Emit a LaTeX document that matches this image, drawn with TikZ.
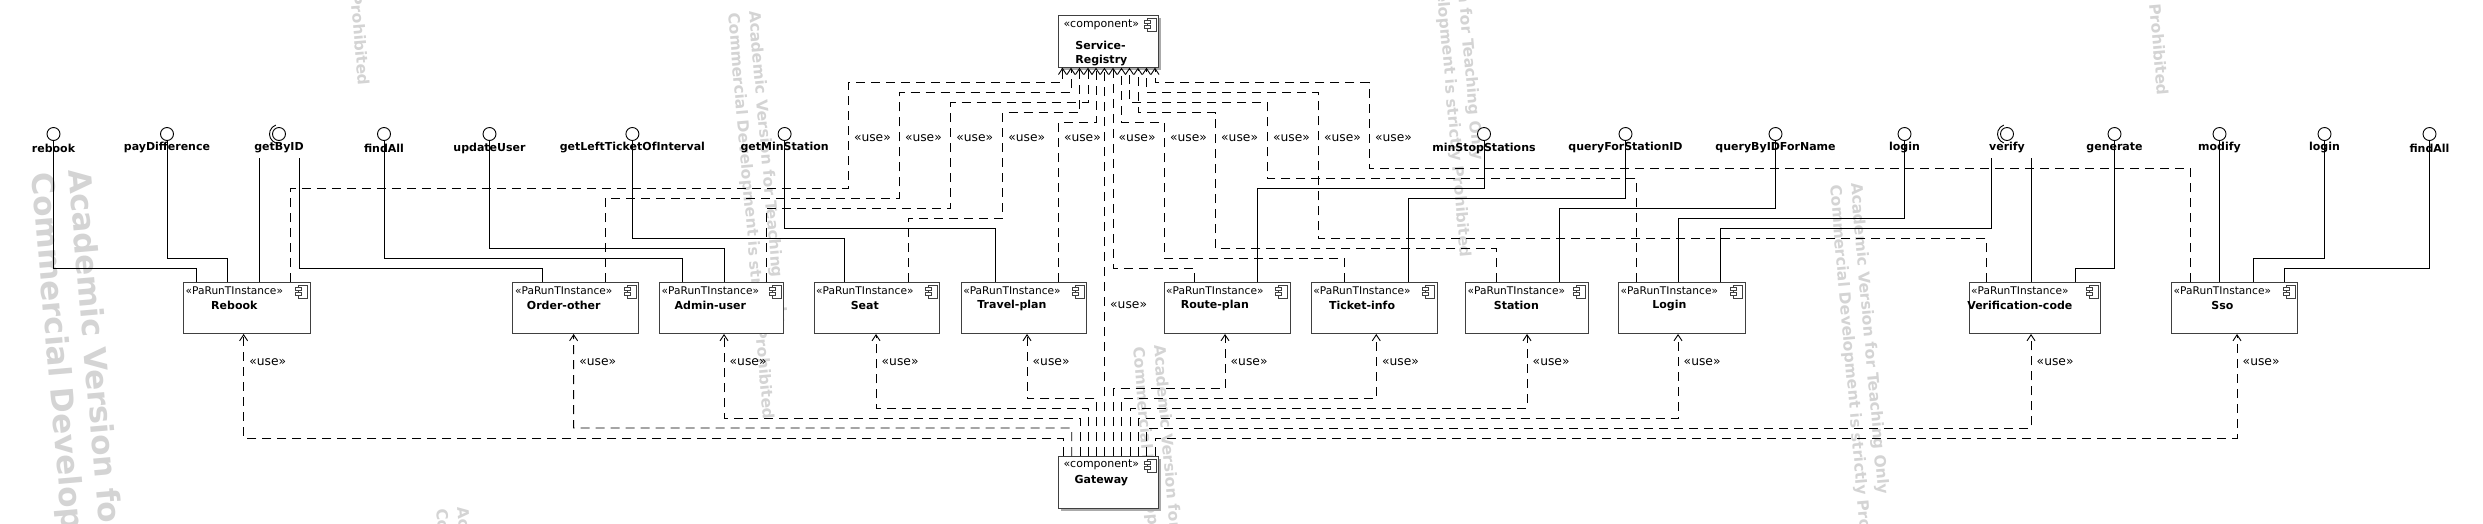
\documentclass[tikz,border=0pt]{standalone}
\usepackage{fontspec}
\setmainfont{DejaVu Sans}
\usetikzlibrary{arrows.meta}
\definecolor{wmc}{RGB}{212,212,212}
\definecolor{bord}{RGB}{64,64,64}
\definecolor{shad}{RGB}{170,170,170}
\tikzset{
  ln/.style={line width=0.9pt, draw=black},
  dep/.style={line width=0.9pt, draw=black, dash pattern=on 9pt off 6pt},
  uarr/.style={-{Straight Barb[length=6pt,width=8pt,line width=0.9pt]}},
  compbox/.style={draw=bord, line width=1pt, fill=white, inner sep=0pt, minimum height=51pt, anchor=north west},
  stereo/.style={font=\fontsize{10.6}{12}\selectfont, inner sep=0pt},
  cname/.style={font=\fontsize{11}{13.5}\selectfont\bfseries, inner sep=0pt},
  iflabel/.style={font=\fontsize{11}{13}\selectfont\bfseries, inner sep=0pt},
  uselbl/.style={font=\fontsize{12.3}{14}\selectfont, inner sep=0pt, anchor=west},
  ball/.style={draw=black, line width=0.9pt, fill=white, circle, minimum size=13pt, inner sep=0pt},
  wm/.style={text=wmc, font=\fontsize{15.5}{21}\selectfont\bfseries, align=left, anchor=north west, rotate=-85, inner sep=0pt},
  wmbig/.style={wm, font=\fontsize{31}{37}\selectfont\bfseries},
}
\newcommand{\cicon}[1]{%
  \begin{scope}[shift={#1}]
    \draw[bord, line width=0.8pt, fill=white] (3,0) rectangle (12,13);
    \draw[bord, line width=0.8pt, fill=white] (0,2.5) rectangle (6,5.5);
    \draw[bord, line width=0.8pt, fill=white] (0,7.5) rectangle (6,10.5);
  \end{scope}}
\newcommand{\comp}[4]{%
  \node[compbox, minimum width=#3pt] (#1) at (#2,282) {};
  \node[stereo, anchor=west] (#1s) at ([xshift=2.5pt,yshift=-8.7pt]#1.north west) {«PaRunTInstance»};
  \node[cname] (#1n) at ([yshift=-14.3pt]#1s.center) {#4};
  \cicon{([xshift=-15pt,yshift=-3pt]#1.north east)}
}
\newcommand{\wmark}[2][wm]{\node[#1] at #2 {Academic Version for Teaching Only\\Commercial Development is strictly Prohibited};}
\begin{document}
\begin{tikzpicture}[x=1pt,y=-1pt]
\fill[white] (0,0) rectangle (2483,523);
\useasboundingbox (0,0) rectangle (2483,523);
\clip (0,0) rectangle (2483,523);
% watermark
\wmark[wmbig]{(92,168)}
\wmark{(761,10)}
\wmark{(356,-324)}
\wmark{(1166,344)}
\wmark{(1458,-152)}
\wmark{(1863,182)}
\wmark{(2155,-314)}
\wmark{(469,506)}

% ---- component boxes
\fill[shad] (1061.3,18) rectangle (1161.3,69.7);
\node[compbox, minimum width=100pt, minimum height=51.7pt] (sr) at (1058.3,15) {};
\node[stereo, font=\fontsize{11}{12}\selectfont, anchor=west] (srs) at ([xshift=5pt,yshift=-9.3pt]sr.north west) {«component»};
\node[cname, align=left, anchor=north] (srn) at ([yshift=-17pt]srs.center) {Service-\\Registry};
\cicon{([xshift=-15pt,yshift=-3pt]sr.north east)}

\fill[shad] (1061.3,459) rectangle (1161.3,511.3);
\node[compbox, minimum width=100pt, minimum height=52.3pt] (gw) at (1058.3,456) {};
\node[stereo, font=\fontsize{11}{12}\selectfont, anchor=west] (gws) at ([xshift=5pt,yshift=-9pt]gw.north west) {«component»};
\node[cname] (gwn) at ([yshift=-15.3pt]gws.center) {Gateway};
\cicon{([xshift=-15pt,yshift=-3pt]gw.north east)}

\comp{reb}{183}{126.6}{Rebook}
\comp{ord}{512.4}{126}{Order-other}
\comp{adm}{659}{124}{Admin-user}
\comp{seat}{813.5}{125.5}{Seat}
\comp{trv}{960.6}{125.4}{Travel-plan}
\comp{rte}{1163.5}{126}{Route-plan}
\comp{tkt}{1310.7}{125.8}{Ticket-info}
\comp{sta}{1465}{122.5}{Station}
\comp{lgn}{1618}{126.5}{Login}
\comp{ver}{1968.5}{131.9}{Verification-code}
\comp{sso}{2171}{126}{Sso}

% ---- interfaces
\foreach \id/\x/\t in {rebook/53.5/rebook, payd/167/payDifference, getbyid/279/getByID,
  findall/384/findAll, upd/489.5/updateUser, glt/632.4/getLeftTicketOfInterval,
  gms/784.6/getMinStation, mss/1484/minStopStations, qfs/1625.5/queryForStationID,
  qbn/1775.5/queryByIDForName, login/1904.5/login, verify/2007/verify,
  gen/2114.5/generate, modify/2219.5/modify, logintwo/2324.5/login, findalltwo/2429.5/findAll} {
  \node[ball] (i-\id) at (\x,134) {};
  \node[iflabel] (l-\id) at (\x,148) {\t};
}
\draw[line width=0.9pt] (i-getbyid.center) ++(110:9.5) arc[start angle=110, end angle=250, radius=9.5];
\draw[line width=0.9pt] (i-verify.center) ++(110:9.5) arc[start angle=110, end angle=250, radius=9.5];
\coordinate (gb1) at (259.8,158.3);
\coordinate (gb2) at (299.3,158.3);
\coordinate (vf1) at (1991,158.3);
\coordinate (vf2) at (2031,158.3);

% ---- solid connectors (interface to component)
\draw[ln] (i-rebook.south) -- (53.5,268.3) -| ([xshift=13.5pt]reb.north west);
\draw[ln] (i-payd.south) -- (167,258.3) -| ([xshift=44.8pt]reb.north west);
\draw[ln] (gb1) -- ([xshift=76.8pt]reb.north west);
\draw[ln] (gb2) -- (299.3,268.3) -| ([xshift=30.1pt]ord.north west);
\draw[ln] (i-findall.south) -- (384,258.3) -| ([xshift=23.2pt]adm.north west);
\draw[ln] (i-upd.south) -- (489.5,248.3) -| ([xshift=65.5pt]adm.north west);
\draw[ln] (i-glt.south) -- (632.4,238.3) -| ([xshift=30.9pt]seat.north west);
\draw[ln] (i-gms.south) -- (784.6,228.3) -| ([xshift=34.8pt]trv.north west);
\draw[ln] (i-mss.south) -- (1484,188.3) -| ([xshift=93.8pt]rte.north west);
\draw[ln] (i-qfs.south) -- (1625.5,198.3) -| ([xshift=97.6pt]tkt.north west);
\draw[ln] (i-qbn.south) -- (1775.5,208.3) -| ([xshift=94pt]sta.north west);
\draw[ln] (i-login.south) -- (1904.5,218.3) -| ([xshift=60.5pt]lgn.north west);
\draw[ln] (vf1) -- (1991,228.3) -| ([xshift=102pt]lgn.north west);
\draw[ln] (vf2) -- ([xshift=62.5pt]ver.north west);
\draw[ln] (i-gen.south) -- (2114.5,268.3) -| ([xshift=107pt]ver.north west);
\draw[ln] (i-modify.south) -- ([xshift=48.5pt]sso.north west);
\draw[ln] (i-logintwo.south) -- (2324.5,258.3) -| ([xshift=82.4pt]sso.north west);
\draw[ln] (i-findalltwo.south) -- (2429.5,268.3) -| ([xshift=113pt]sso.north west);

% ---- dependencies to Service-Registry
\draw[dep,uarr] ([xshift=107.6pt]reb.north west) |- (848.3,188.3) |- (1062.5,82.7) -- ([xshift=4.2pt]sr.south west);
\draw[dep,uarr] ([xshift=92.6pt]ord.north west) |- (899.3,198.3) |- (1071,92.7) -- ([xshift=12.7pt]sr.south west);
\draw[dep,uarr] ([xshift=107pt]adm.north west) |- (950.7,208.3) |- (1088,102.7) -- ([xshift=29.7pt]sr.south west);
\draw[dep,uarr] ([xshift=94.5pt]seat.north west) |- (1002.7,218.3) |- (1079.5,112.7) -- ([xshift=21.2pt]sr.south west);
\draw[dep,uarr] ([xshift=97.7pt]trv.north west) |- (1096,122.7) -- ([xshift=37.7pt]sr.south west);
\draw[dep,uarr] ([xshift=46.1pt]gw.north west) -- ([xshift=46.1pt]sr.south west);
\draw[dep,uarr] ([xshift=30.5pt]rte.north west) |- (1113,268.3) -- ([xshift=54.7pt]sr.south west);
\draw[dep,uarr] ([xshift=33.6pt]tkt.north west) |- (1164.3,258.3) |- (1121.5,122.7) -- ([xshift=63.2pt]sr.south west);
\draw[dep,uarr] ([xshift=31.6pt]sta.north west) |- (1215.5,248.3) |- (1138,112.7) -- ([xshift=79.7pt]sr.south west);
\draw[dep,uarr] ([xshift=18.7pt]lgn.north west) |- (1267.3,178.3) |- (1129.5,102.7) -- ([xshift=71.2pt]sr.south west);
\draw[dep,uarr] ([xshift=18.1pt]ver.north west) |- (1318.3,238.3) |- (1146.5,92.7) -- ([xshift=88.2pt]sr.south west);
\draw[dep,uarr] ([xshift=19pt]sso.north west) |- (1369.3,168.3) |- (1155,82.7) -- ([xshift=96.7pt]sr.south west);
\foreach \x in {848.3,899.3,950.7,1002.7,1058.3,1113,1164.3,1215.5,1267.3,1318.3,1369.3}
  \node[uselbl] at (\x+5.5,138.5) {«use»};
\node[uselbl] at (1110,305) {«use»};

% ---- dependencies from Gateway
\draw[dep,uarr] ([xshift=5pt]gw.north west) |- (243.6,438) -- ([xshift=60.6pt]reb.south west);
\draw[dep,uarr] ([xshift=13.4pt]gw.north west) |- (573.6,428) -- ([xshift=61.2pt]ord.south west);
\draw[dep,uarr] ([xshift=21.7pt]gw.north west) |- (724,418.3) -- ([xshift=65pt]adm.south west);
\draw[dep,uarr] ([xshift=30pt]gw.north west) |- (876,408.3) -- ([xshift=62.5pt]seat.south west);
\draw[dep,uarr] ([xshift=38.4pt]gw.north west) |- (1027,398.3) -- ([xshift=66.4pt]trv.south west);
\draw[dep,uarr] ([xshift=55pt]gw.north west) |- (1225,388.3) -- ([xshift=61.5pt]rte.south west);
\draw[dep,uarr] ([xshift=63.4pt]gw.north west) |- (1376.3,398.3) -- ([xshift=65.6pt]tkt.south west);
\draw[dep,uarr] ([xshift=71.7pt]gw.north west) |- (1527,408.3) -- ([xshift=62pt]sta.south west);
\draw[dep,uarr] ([xshift=80pt]gw.north west) |- (1678,418.3) -- ([xshift=60pt]lgn.south west);
\draw[dep,uarr] ([xshift=88.4pt]gw.north west) |- (2031,428.3) -- ([xshift=62.5pt]ver.south west);
\draw[dep,uarr] ([xshift=96.7pt]gw.north west) |- (2237,438) -- ([xshift=66pt]sso.south west);
\foreach \x in {243.6,573.6,724,876,1027,1225,1376.3,1527,1678,2031,2237}
  \node[uselbl] at (\x+5.5,362) {«use»};
\end{tikzpicture}
\end{document}
